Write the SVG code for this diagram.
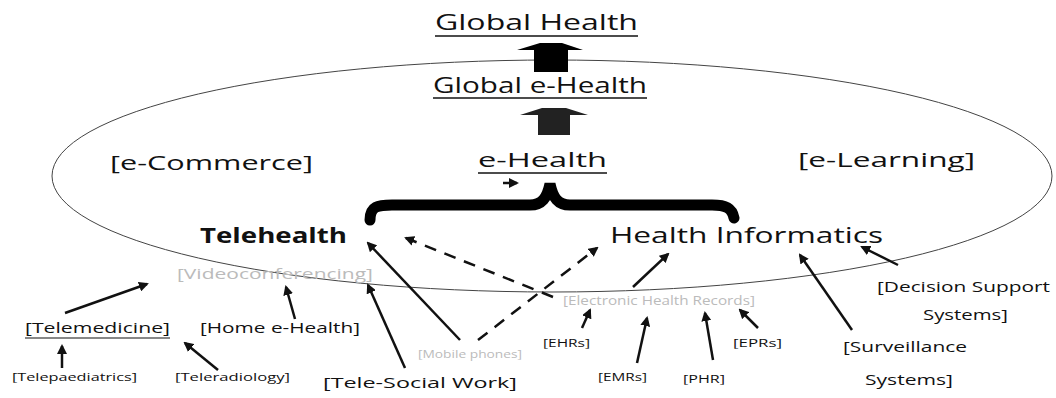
<svg xmlns="http://www.w3.org/2000/svg" width="1056" height="398" viewBox="0 0 1056 398">
<defs>
<style>
text{font-family:"Open Sans","DejaVu Sans",sans-serif;fill:#111}
.big{font-size:21px}
.mid{font-size:20px}
.lab{font-size:15px}
.sm{font-size:11px}
.faint{fill:#bbb}
.ln{stroke:#111;stroke-width:2.5;fill:none}
.dash{stroke:#111;stroke-width:2.5;fill:none;stroke-dasharray:12 9}
</style>
<marker id="ah" viewBox="0 0 10 10" refX="8" refY="5" markerWidth="4" markerHeight="4" orient="auto" markerUnits="strokeWidth">
<path d="M0,0 L10,5 L0,10 z" fill="#111"/>
</marker>
</defs>
<rect width="1056" height="398" fill="#fff"/>
<ellipse cx="552" cy="176" rx="500" ry="116" fill="none" stroke="#444" stroke-width="1"/>
<g id="global-health">
<text class="big" x="435" y="30" textLength="203" lengthAdjust="spacingAndGlyphs">Global Health</text>
<line x1="435" y1="36" x2="638" y2="36" stroke="#111" stroke-width="1.5"/>
</g>
<g id="block-arrow-1"><polygon points="517,50 540,43 562,43 583,50 568,50 568,72 534,72 534,50" fill="#000"/></g>
<g id="global-ehealth">
<text class="big" x="433" y="93" textLength="214" lengthAdjust="spacingAndGlyphs">Global e-Health</text>
<line x1="433" y1="98" x2="647" y2="98" stroke="#111" stroke-width="1.5"/>
</g>
<g id="block-arrow-2"><polygon points="520,115 542,108 566,108 588,115 570,115 570,135 538,135 538,115" fill="#222"/></g>
<g id="ecommerce"><text class="mid" x="110" y="170" textLength="203" lengthAdjust="spacingAndGlyphs">[e-Commerce]</text></g>
<g id="ehealth">
<text class="mid" x="478" y="167" textLength="129" lengthAdjust="spacingAndGlyphs">e-Health</text>
<line x1="478" y1="173" x2="607" y2="173" stroke="#111" stroke-width="1.5"/>
</g>
<g id="elearning"><text class="mid" x="798" y="167" textLength="177" lengthAdjust="spacingAndGlyphs">[e-Learning]</text></g>
<g id="brace"><path d="M370,220 C370,206 378,205 392,205 L530,205 C542,205 547,198 550,184 C553,198 558,205 570,205 L712,205 C726,205 732,208 734,218" fill="none" stroke="#000" stroke-width="11" stroke-linecap="round"/></g>
<g id="telehealth"><text x="200" y="243" font-size="22" font-weight="bold" textLength="147" lengthAdjust="spacingAndGlyphs">Telehealth</text></g>
<g id="health-informatics"><text x="610" y="243" font-size="22" textLength="273" lengthAdjust="spacingAndGlyphs">Health Informatics</text></g>
<g id="videoconferencing"><text class="faint" x="177" y="279" font-size="15" textLength="196" lengthAdjust="spacingAndGlyphs">[Videoconferencing]</text></g>
<g id="telemedicine">
<text class="lab" x="25" y="333" font-size="16" textLength="145" lengthAdjust="spacingAndGlyphs">[Telemedicine]</text>
<line x1="25" y1="338" x2="170" y2="338" stroke="#111" stroke-width="1.2"/>
</g>
<g id="home-ehealth"><text class="lab" x="200" y="333" font-size="16" textLength="160" lengthAdjust="spacingAndGlyphs">[Home e-Health]</text></g>
<g id="telepaediatrics"><text class="sm" x="12" y="381" textLength="125" lengthAdjust="spacingAndGlyphs">[Telepaediatrics]</text></g>
<g id="teleradiology"><text class="sm" x="175" y="381" textLength="115" lengthAdjust="spacingAndGlyphs">[Teleradiology]</text></g>
<g id="tele-social-work"><text class="lab" x="323" y="388" font-size="16" textLength="194" lengthAdjust="spacingAndGlyphs">[Tele-Social Work]</text></g>
<g id="mobile-phones"><text class="sm faint" x="418" y="358" textLength="104" lengthAdjust="spacingAndGlyphs">[Mobile phones]</text></g>
<g id="ehr-records"><text class="faint" x="563" y="305" font-size="13" textLength="192" lengthAdjust="spacingAndGlyphs">[Electronic Health Records]</text></g>
<g id="ehrs"><text class="sm" x="543" y="347" textLength="47" lengthAdjust="spacingAndGlyphs">[EHRs]</text></g>
<g id="emrs"><text class="sm" x="598" y="381" textLength="49" lengthAdjust="spacingAndGlyphs">[EMRs]</text></g>
<g id="phr"><text class="sm" x="683" y="383" textLength="42" lengthAdjust="spacingAndGlyphs">[PHR]</text></g>
<g id="eprs"><text class="sm" x="733" y="347" textLength="49" lengthAdjust="spacingAndGlyphs">[EPRs]</text></g>
<g id="surveillance">
<text class="lab" x="843" y="352" textLength="124" lengthAdjust="spacingAndGlyphs">[Surveillance</text>
<text class="lab" x="865" y="385" textLength="88" lengthAdjust="spacingAndGlyphs">Systems]</text>
</g>
<g id="decision-support">
<text class="lab" x="877" y="292" textLength="173" lengthAdjust="spacingAndGlyphs">[Decision Support</text>
<text class="lab" x="923" y="320" textLength="85" lengthAdjust="spacingAndGlyphs">Systems]</text>
</g>
<g id="connectors">
<line class="ln" x1="65" y1="313" x2="147" y2="284" marker-end="url(#ah)"/>
<line class="ln" x1="295" y1="319" x2="286" y2="287" marker-end="url(#ah)"/>
<line class="ln" x1="62" y1="368" x2="62" y2="346" marker-end="url(#ah)"/>
<line class="ln" x1="218" y1="370" x2="185" y2="343" marker-end="url(#ah)"/>
<line class="ln" x1="405" y1="368" x2="368" y2="285" marker-end="url(#ah)"/>
<line class="ln" x1="460" y1="340" x2="368" y2="243" marker-end="url(#ah)"/>
<line class="dash" x1="478" y1="340" x2="597" y2="248" marker-end="url(#ah)"/>
<line class="dash" x1="553" y1="297" x2="406" y2="238" marker-end="url(#ah)"/>
<line class="ln" x1="633" y1="287" x2="668" y2="254" marker-end="url(#ah)"/>
<line class="ln" x1="582" y1="328" x2="590" y2="310" marker-end="url(#ah)"/>
<line class="ln" x1="637" y1="363" x2="647" y2="318" marker-end="url(#ah)"/>
<line class="ln" x1="713" y1="360" x2="705" y2="313" marker-end="url(#ah)"/>
<line class="ln" x1="758" y1="328" x2="740" y2="310" marker-end="url(#ah)"/>
<line class="ln" x1="852" y1="330" x2="800" y2="255" marker-end="url(#ah)"/>
<line class="ln" x1="898" y1="265" x2="862" y2="247" marker-end="url(#ah)"/>
<line class="ln" x1="503" y1="183" x2="517" y2="183" stroke-width="2" marker-end="url(#ah)"/>
</g>
</svg>
